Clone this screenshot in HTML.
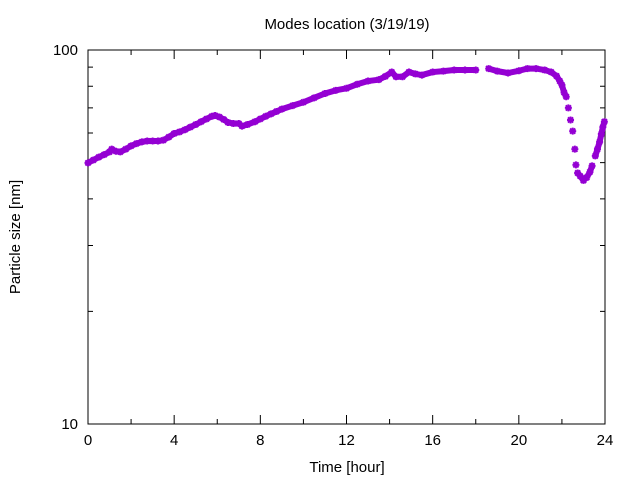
<!DOCTYPE html>
<html><head><meta charset="utf-8"><style>
body{margin:0;background:#fff}
svg{display:block;font-family:"Liberation Sans",sans-serif}
</style></head><body>
<svg id="chart" width="640" height="480">
<text x="347" y="29" font-size="15" text-anchor="middle">Modes location (3/19/19)</text>
<text x="347" y="472" font-size="15" text-anchor="middle">Time [hour]</text>
<text transform="translate(20,237) rotate(-90)" font-size="15" text-anchor="middle">Particle size [nm]</text>
<g id="axes"></g><g id="series"></g>
</svg>
<script>
const hours=[0,0.25,0.5,0.75,1.0,1.1,1.3,1.5,1.75,2.0,2.25,2.5,2.75,3.0,3.25,3.5,3.75,4.0,4.25,4.5,4.75,5.0,5.25,5.5,5.75,5.9,6.1,6.3,6.5,6.75,7.0,7.15,7.4,7.75,8.0,8.25,8.5,8.75,9.0,9.5,10.0,10.5,11.0,11.5,12.0,12.5,13.0,13.5,13.8,14.1,14.3,14.6,14.9,15.2,15.5,16.0,16.5,17.0,17.5,18.0,18.6,19.0,19.5,20.0,20.4,20.8,21.2,21.5,21.75,21.9,22.0,22.1,22.2,22.3,22.4,22.5,22.6,22.65,22.73,22.85,23.0,23.15,23.3,23.4,23.55,23.65,23.75,23.83,23.9,23.97];
const sizes=[49.9,50.8,51.7,52.5,53.4,54.3,53.6,53.4,54.3,55.4,56.2,56.8,57.1,57.1,57.1,57.4,58.5,59.8,60.4,61.2,62.2,63.2,64.3,65.4,66.5,66.8,66.2,65.2,64.0,63.6,63.6,62.6,63.2,64.3,65.4,66.5,67.5,68.5,69.5,71.0,72.5,74.5,76.5,78.0,79.0,81.0,82.6,83.3,85.0,87.3,84.8,84.8,87.3,86.3,85.7,87.3,87.8,88.4,88.4,88.4,89.2,87.8,86.8,88.0,89.2,89.2,88.4,87.3,85.2,82.6,80.6,77.0,75.0,70.0,65.0,60.7,54.3,49.3,46.9,46.0,44.8,45.6,47.2,49.0,52.1,54.3,56.8,59.6,62.2,64.3];
const xTicks=[0,4,8,12,16,20,24];
const xMinor=[2,6,10,14,18,22];
const yTicks=[10,100];
const yMinor=[20,30,40,50,60,70,80,90];
const L=88,R=605,T=50,B=424;
const sx=h=>L+(h-0)/24*(R-L);
const sy=v=>T+(2-Math.log10(v))*(B-T);
const NS="http://www.w3.org/2000/svg";
function mk(tag,attrs,parent){const e=document.createElementNS(NS,tag);for(const k in attrs)e.setAttribute(k,attrs[k]);parent.appendChild(e);return e;}
const ax=document.getElementById('axes');
const frame=mk('rect',{x:L,y:T,width:R-L,height:B-T,fill:'none',stroke:'#000','stroke-width':1},ax);


xTicks.forEach(t=>{
 const x=sx(t);
 const a=mk('path',{d:`M${x},${B}v-9M${x},${T}v9`,stroke:'#000'},ax);
 
 
 const tx=mk('text',{x:x,y:B+21,'font-size':15,'text-anchor':'middle'},ax);
 tx.textContent=t;
 
 
});
xMinor.forEach(t=>{
 const x=sx(t);
 const a=mk('path',{d:`M${x},${B}v-5M${x},${T}v5`,stroke:'#000'},ax);
 
 
});
yTicks.forEach(t=>{
 const y=sy(t);
 const a=mk('path',{d:`M${L},${y}h9M${R},${y}h-9`,stroke:'#000'},ax);
 
 
 const tx=mk('text',{x:L-10,y:y+5,'font-size':15,'text-anchor':'end'},ax);
 tx.textContent=t;
 
 
});
yMinor.forEach(t=>{
 const y=sy(t);
 const a=mk('path',{d:`M${L},${y}h5M${R},${y}h-5`,stroke:'#000'},ax);
 
 
});
const sg=document.getElementById('series');
const C='#9400d3';
for(let i=1;i<hours.length;i++){
 const x0=sx(hours[i-1]),y0=sy(sizes[i-1]),x1=sx(hours[i]),y1=sy(sizes[i]);
 if(Math.abs(y1-y0)<8 && hours[i]-hours[i-1]<0.6){
  const s=mk('line',{x1:x0,y1:y0,x2:x1,y2:y1,stroke:C,'stroke-width':6,'stroke-linecap':'round'},sg);
  
  
 }
}
hours.forEach((h,i)=>{
 const x=sx(h),y=sy(sizes[i]),r=3.5;
 const p=mk('path',{d:`M${x-r},${y}h${2*r}M${x},${y-r}v${2*r}M${x-2.6},${y-2.6}l5.2,5.2M${x-2.6},${y+2.6}l5.2,-5.2`,stroke:C,'stroke-width':2},sg);
 
 
});
</script>
</body></html>
